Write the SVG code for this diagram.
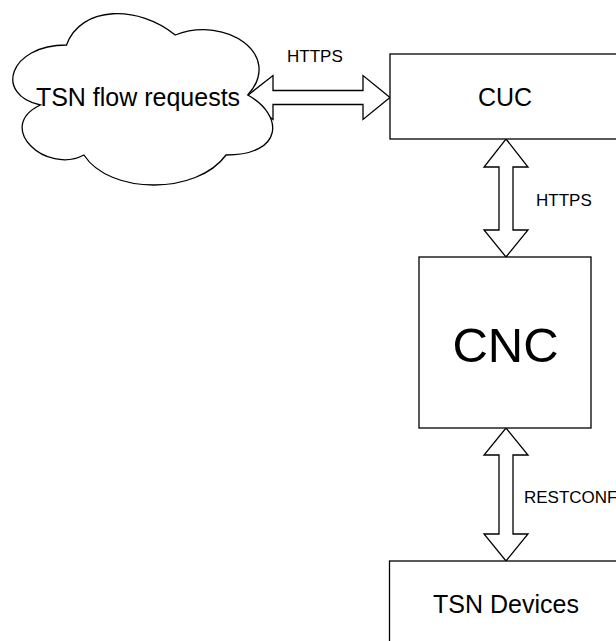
<svg xmlns="http://www.w3.org/2000/svg" width="616" height="641" viewBox="0 0 616 641">
  <style>
    .shape { fill: #ffffff; stroke: #000000; stroke-width: 1.3; }
    .arrow { fill: #ffffff; stroke: #000000; stroke-width: 1.3; stroke-linejoin: miter; }
    .big { font-family: "Liberation Sans", Arial, sans-serif; font-size: 25px; fill: #000000; }
    .huge { font-family: "Liberation Sans", Arial, sans-serif; font-size: 49px; fill: #000000; }
    .label { font-family: "Liberation Sans", Arial, sans-serif; font-size: 17px; fill: #000000; }
  </style>
  <rect width="616" height="641" fill="#ffffff"/>

  <!-- connectors: double-headed block arrows -->
  <g id="connectors">
    <g id="edge-requests-cuc">
      <polygon class="arrow" points="245,97.5 273,75.5 273,90.5 363,90.5 363,75.5 390,97.5 363,119.5 363,104.5 273,104.5 273,119.5"/>
      <text class="label" x="287" y="62">HTTPS</text>
    </g>
    <g id="edge-cuc-cnc">
      <polygon class="arrow" points="506,139 528,167 513,167 513,230 528,230 506,257 484,230 499,230 499,167 484,167"/>
      <text class="label" x="536" y="206">HTTPS</text>
    </g>
    <g id="edge-cnc-devices">
      <polygon class="arrow" points="506,428 528,455 513,455 513,534 528,534 506,561 484,534 499,534 499,455 484,455"/>
      <text class="label" x="524" y="503">RESTCONF</text>
    </g>
  </g>

  <!-- cloud of incoming flow requests -->
  <g id="node-requests">
    <path class="shape" transform="translate(-6,-5) scale(290,200)" vector-effect="non-scaling-stroke"
      d="M0.25,0.25 C0.05,0.25 0,0.5 0.16,0.55 C0,0.66 0.18,0.9 0.31,0.8 C0.4,1 0.7,1 0.8,0.8 C1,0.8 1,0.6 0.875,0.5 C1,0.3 0.8,0.1 0.625,0.2 C0.5,0.05 0.3,0.05 0.25,0.25 Z"/>
    <text class="big" x="138" y="106" text-anchor="middle">TSN flow requests</text>
  </g>

  <g id="node-cuc">
    <rect class="shape" x="390" y="54" width="240" height="85"/>
    <text class="big" x="505" y="106" text-anchor="middle">CUC</text>
  </g>

  <g id="node-cnc">
    <rect class="shape" x="419" y="257" width="172" height="171"/>
    <text class="huge" x="505.5" y="362" text-anchor="middle">CNC</text>
  </g>

  <g id="node-devices">
    <rect class="shape" x="389.5" y="561" width="240" height="100"/>
    <text class="big" x="506" y="613" text-anchor="middle">TSN Devices</text>
  </g>
</svg>
